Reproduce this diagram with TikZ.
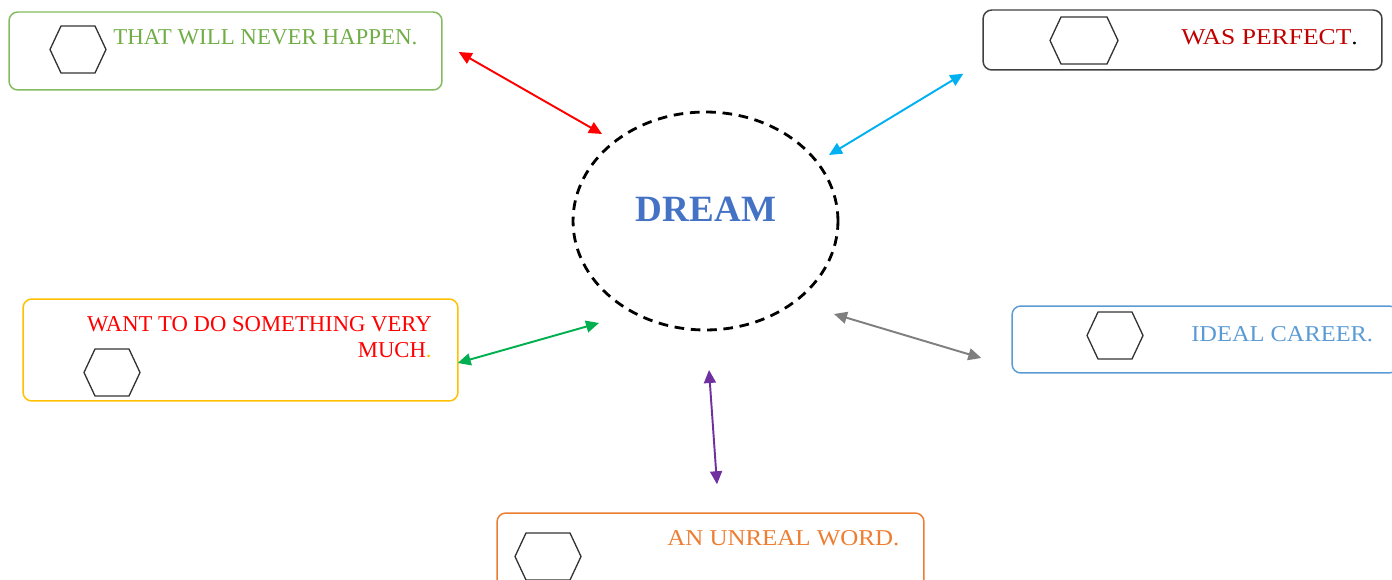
\documentclass[tikz,border=0pt]{standalone}
\usepackage{fontspec}
\setmainfont{Liberation Serif}
\usetikzlibrary{calc,arrows.meta,shapes.geometric}
\definecolor{grntxt}{HTML}{70AD47}
\definecolor{grnbox}{HTML}{84BA60}
\definecolor{darkbox}{HTML}{404040}
\definecolor{darkred}{HTML}{C00000}
\definecolor{gold}{HTML}{FFC000}
\definecolor{skyblue}{HTML}{5B9BD5}
\definecolor{orng}{HTML}{ED7D31}
\definecolor{dreamblue}{HTML}{4472C4}
\definecolor{cyanarrow}{HTML}{00B0F0}
\definecolor{grnarrow}{HTML}{00B050}
\definecolor{grayarrow}{HTML}{7F7F7F}
\definecolor{purplearrow}{HTML}{7030A0}
\tikzset{
    card/.style={draw,line width=0.85pt,rounded corners=5pt,inner sep=0pt},
    word/.style={font={\fontsize{12.9}{14.7}\selectfont\addfontfeature{FakeStretch=#1}},inner sep=0pt},
    word/.default=1,
    link/.style={{Triangle[length=7.4pt,width=6.8pt]}-{Triangle[length=7.4pt,width=6.8pt]},line width=1.1pt},
    hexa w/.store in=\hexw, hexa w=56,
    hexa/.pic={\draw[line width=0.75pt,color=black!80] (-\hexw/2,0) -- (-\hexw/2+11,-23.5) -- (\hexw/2-11,-23.5)
        -- (\hexw/2,0) -- (\hexw/2-11,23.5) -- (-\hexw/2+11,23.5) -- cycle;}
}

\begin{document}
\begin{tikzpicture}[x=0.02cm,y=-0.02cm]
\useasboundingbox (0,0) rectangle (1392,580);

% centre
\node[ellipse,draw,dashed,dash pattern=on 5.5pt off 3.8pt,line width=1.6pt,
      minimum width=5.3cm,minimum height=4.36cm] (dream) at (705.5,221) {};
\node[anchor=base,inner sep=0pt,font=\fontsize{21.1}{24}\selectfont\bfseries,text=dreamblue] (dreamword) at (706,222) {DREAM};

% cards
\node[card,draw=grnbox,minimum width=8.66cm,minimum height=1.56cm] (never) at (225.5,51) {};
\node[card,draw=darkbox,minimum width=7.98cm,minimum height=1.2cm] (perfect) at (1182.5,40) {};
\node[card,draw=gold,minimum width=8.7cm,minimum height=2.04cm] (want) at (240.5,350) {};
\node[card,draw=skyblue,minimum width=7.72cm,minimum height=1.34cm] (career) at (1205,339.5) {};
\node[card,draw=orng,minimum width=8.54cm,minimum height=1.74cm] (unreal) at (710.5,556.5) {};

% hexagons
\pic at (78,49.5) {hexa};
\pic[hexa w=68] at (1084,40.5) {hexa};
\pic at (112,372.5) {hexa};
\pic at (1115,335.5) {hexa};
\pic[hexa w=66] at (548,556.5) {hexa};

% texts
\node[word=1.01,anchor=base west,text=grntxt] (nevertxt) at (113,45) {THAT WILL NEVER HAPPEN.};
\node[word=1.13,anchor=base west,text=darkred] (perfecttxt) at (1181,45) {WAS PERFECT\textcolor{black}{.}};
\node[word,anchor=north east,align=right,text=red] (wanttxt) at (432,316) {WANT TO DO SOMETHING VERY\\MUCH\textcolor{gold}{.}};
\node[word=1.077,anchor=base west,text=skyblue] (careertxt) at (1191,342) {IDEAL CAREER.};
\node[word=1.1,anchor=base west,text=orng] (unrealtxt) at (667,545) {AN UNREAL WORD.};

% links
\draw[link,red] ($(never.east)+(16,1)$) -- ($(dream.center)+(-103.5,-87)$);
\draw[link,cyanarrow] ($(perfect.south west)+(-19,3)$) -- ($(dream.center)+(123.5,-66)$);
\draw[link,grnarrow] ($(want.east)+(-1,13)$) -- ($(dream.center)+(-106.5,102)$);
\draw[link,grayarrow] ($(career.west)+(-30,18.5)$) -- ($(dream.center)+(128.5,93)$);
\draw[link,purplearrow] ($(unreal.north)+(6.5,-28)$) -- ($(dream.center)+(3.5,149)$);

\end{tikzpicture}
\end{document}
